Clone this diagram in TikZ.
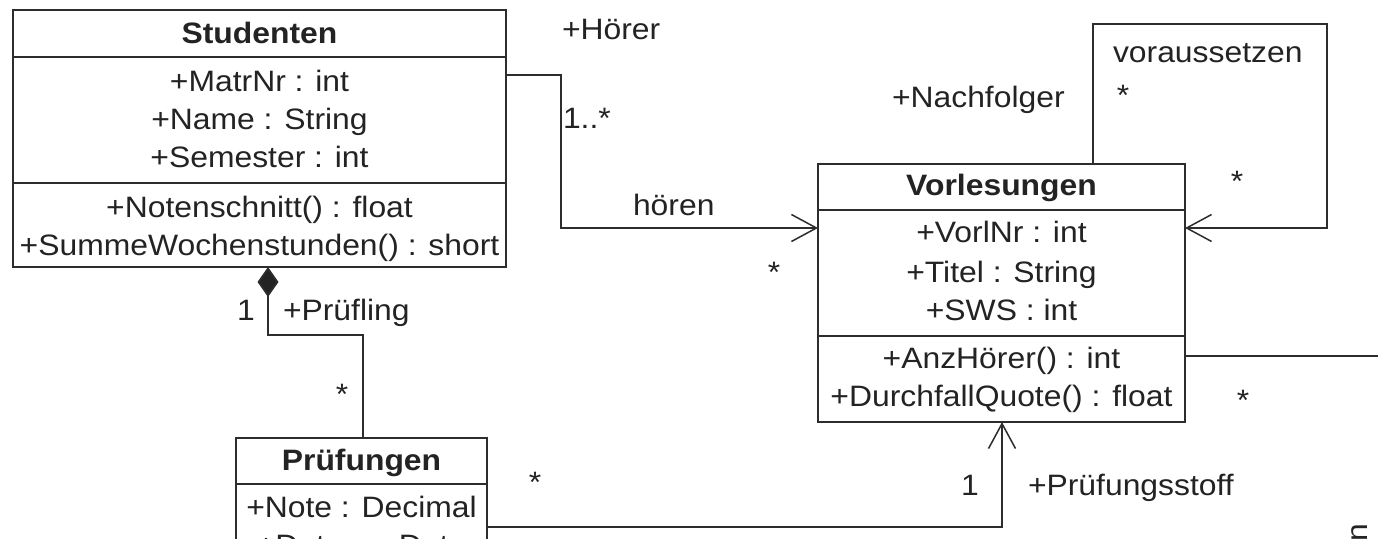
\documentclass[tikz,border=0pt]{standalone}
\usepackage{fontspec}
\setmainfont{Liberation Sans}[FakeStretch=1.08]
\usetikzlibrary{arrows.meta}
\definecolor{ink}{RGB}{35,35,35}
\definecolor{stroke}{RGB}{45,45,45}
\begin{document}
\begin{tikzpicture}[x=1pt,y=-1pt,
  box/.style={draw=stroke, line width=1.7pt, inner sep=0pt, outer sep=0pt, anchor=north west},
  sep/.style={draw=stroke, line width=1.7pt},
  txt/.style={inner sep=0pt, outer sep=0pt, text=ink, font=\fontsize{29.5}{38}\selectfont},
  ctr/.style={txt, anchor=base},
  lbl/.style={txt, anchor=base west},
  star/.style={txt, anchor=base},
  conn/.style={draw=stroke, line width=1.7pt},
  open/.style={-{Straight Barb[length=25pt,width=27pt,line width=1.5pt]}},
  comp/.style={{Diamond[length=30pt,width=21pt,fill=ink]}-}
]
\useasboundingbox (0,0) rectangle (1378,538);
\clip (0,0) rectangle (1378,538);
\fill[white] (0,0) rectangle (1378,538);

% ---- classes
\node[box, minimum width=493pt, minimum height=257pt] (stud) at (13,10) {};
\node[box, minimum width=367pt, minimum height=258pt] (vorl) at (818,164) {};
\node[box, minimum width=251pt, minimum height=140pt] (pruef) at (236,438) {};

\coordinate (ys1) at (0,57);
\coordinate (ys2) at (0,183);
\draw[sep] (stud.west |- ys1) -- (stud.east |- ys1);
\draw[sep] (stud.west |- ys2) -- (stud.east |- ys2);
\coordinate (yv1) at (0,210);
\coordinate (yv2) at (0,336);
\draw[sep] (vorl.west |- yv1) -- (vorl.east |- yv1);
\draw[sep] (vorl.west |- yv2) -- (vorl.east |- yv2);
\coordinate (yp1) at (0,484);
\draw[sep] (pruef.west |- yp1) -- (pruef.east |- yp1);

% ---- class texts
\node[ctr] (stitle) at (259.5,43) {\bfseries Studenten};
\node[ctr] (sa1) at (259.5,91) {+MatrNr : int};
\node[ctr] (sa2) at (259.5,129) {+Name : String};
\node[ctr] (sa3) at (259.5,167) {+Semester : int};
\node[ctr] (sm1) at (259.5,217) {+Notenschnitt() : float};
\node[ctr] (sm2) at (259.5,255) {+SummeWochenstunden() : short};

\node[ctr] (vtitle) at (1001.5,195) {\bfseries Vorlesungen};
\node[ctr] (va1) at (1001.5,242) {+VorlNr : int};
\node[ctr] (va2) at (1001.5,282) {+Titel : String};
\node[ctr] (va3) at (1001.5,320) {+SWS : int};
\node[ctr] (vm1) at (1001.5,368) {+AnzHörer() : int};
\node[ctr] (vm2) at (1001.5,406) {+DurchfallQuote() : float};

\node[ctr] (ptitle) at (361.5,470) {\bfseries Prüfungen};
\node[ctr] (pa1) at (361.5,517) {+Note : Decimal};
\node[ctr] (pa2) at (361.5,555) {+Datum : Date};

% ---- connectors
% hoeren
\coordinate (hy1) at (0,75);
\coordinate (hx) at (561,228);
\coordinate (hy2) at (0,228);
\draw[conn, open] (stud.east |- hy1) -| (hx) -- (vorl.west |- hy2);
% voraussetzen (self association)
\coordinate (sx) at (1093,0);
\coordinate (stop) at (1327,24);
\draw[conn, open] (vorl.north -| sx) |- (stop) |- (vorl.east |- hy2);
% composition Studenten - Pruefungen
\coordinate (cx1) at (268,0);
\coordinate (cbend) at (363,335);
\draw[conn, comp] (stud.south -| cx1) |- (cbend) -- (pruef.north -| cbend);
% Pruefungsstoff
\coordinate (py) at (0,527);
\coordinate (px) at (1002,0);
\draw[conn, open] (pruef.east |- py) -| (vorl.south -| px);
% line to the right edge
\coordinate (ry) at (0,356);
\coordinate (rend) at (1395,356);
\draw[conn] (vorl.east |- ry) -- (rend);

% ---- labels
\node[lbl] (lhoerer) at (562,39) {+Hörer};
\node[lbl] (lmult1) at (563,128) {1..*};
\node[lbl] (lhoeren) at (633,215) {hören};
\node[star] (st1) at (774,282) {*};
\node[lbl] (lvor) at (1113,62) {voraussetzen};
\node[star] (st2) at (1123,105) {*};
\node[lbl] (lnach) at (892,107) {+Nachfolger};
\node[star] (st3) at (1237,191) {*};
\node[lbl] (lone1) at (237,320) {1};
\node[lbl] (lpruefling) at (283,320) {+Prüfling};
\node[star] (st4) at (342,404) {*};
\node[star] (st5) at (535,492) {*};
\node[lbl] (lone2) at (961,495) {1};
\node[lbl] (lstoff) at (1028,495) {+Prüfungsstoff};
\node[star] (st6) at (1243,410) {*};
\node[txt, rotate=90, anchor=base east] (lcut) at (1367,524) {en};
\end{tikzpicture}
\end{document}
